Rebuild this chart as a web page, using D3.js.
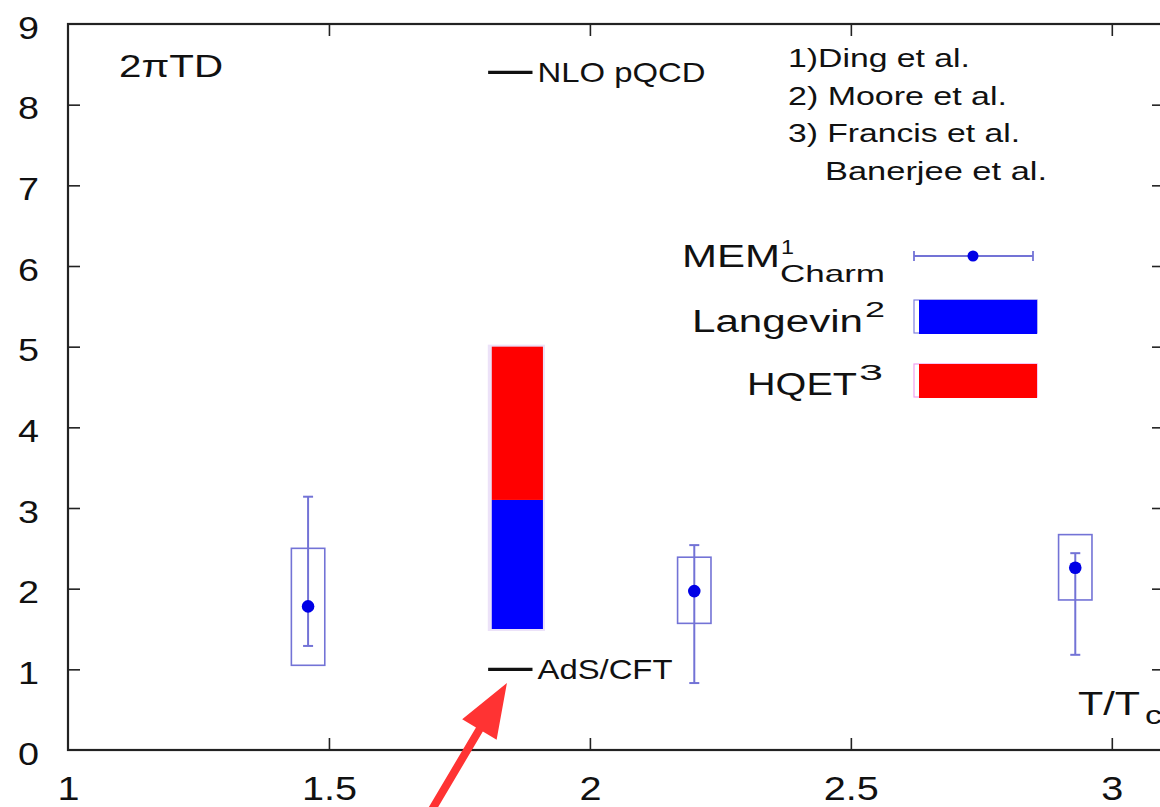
<!DOCTYPE html>
<html>
<head>
<meta charset="utf-8">
<script src="https://cdn.jsdelivr.net/npm/d3@7"></script>
<style>
  body { margin: 0; background: #fff; }
  svg { display: block; }
  text { font-family: "Liberation Sans", Arial, sans-serif; fill: #111; }
</style>
</head>
<body>
<svg id="chart" width="1160" height="807"></svg>
<script>
// MEM charm points (T/Tc, 2piTD), stat errors and systematic boxes
const memT = [1.46, 2.2, 2.93];
const memD = [1.78, 1.97, 2.26];
const memErrLo = [1.29, 0.83, 1.18];
const memErrHi = [3.14, 2.54, 2.44];
const memBoxLo = [1.05, 1.57, 1.86];
const memBoxHi = [2.50, 2.39, 2.67];

// Langevin / HQET band (stacked at the same T)
const bandT = [1.812, 1.91];
const langevinRange = [1.5, 3.1];
const hqetRange = [3.1, 5.0];

// short reference lines
const nloT = [1.805, 1.89];
const nloD = 8.4;
const adsT = [1.805, 1.89];
const adsD = 1.0;

const xTicks = [1, 1.5, 2, 2.5, 3];
const yTicks = [0, 1, 2, 3, 4, 5, 6, 7, 8, 9];
const refLines = ["1)Ding et al.", "2) Moore et al.", "3) Francis et al.", "Banerjee et al."];

const svg = d3.select("#chart");
const pL = 68, pR = 1164, pT = 24, pB = 750;

const x = d3.scaleLinear().domain([1, 3.1]).range([pL, pR]);
const y = d3.scaleLinear().domain([0, 9]).range([pB, pT]);

const memBlue = "#0000e6";
const barStroke = "#7373d6";

// the source figure is stretched sideways, so texts get widened glyphs
function stretchTo(sel, w) {
  sel.attr("textLength", w).attr("lengthAdjust", "spacingAndGlyphs");
  return sel;
}
function stretchBy(sel, k) {
  sel.each(function () {
    const l = this.getComputedTextLength();
    d3.select(this).attr("textLength", l * k).attr("lengthAdjust", "spacingAndGlyphs");
  });
  return sel;
}
function label(px, py, size, str, w) {
  const t = svg.append("text").attr("x", px).attr("y", py).attr("font-size", size).text(str);
  if (w) stretchTo(t, w);
  return t;
}

// frame
svg.append("rect")
  .attr("x", pL).attr("y", pT)
  .attr("width", pR - pL).attr("height", pB - pT)
  .attr("fill", "none").attr("stroke", "#222").attr("stroke-width", 2.2);

// axes
const styleAxis = g => {
  g.select(".domain").remove();
  g.selectAll(".tick line").attr("stroke", "#222").attr("stroke-width", 1.6);
};

svg.append("g")
  .attr("transform", `translate(0,${pB})`)
  .call(d3.axisBottom(x).tickValues(xTicks).tickSize(-12).tickPadding(27)
    .tickFormat(d3.format("")))
  .call(styleAxis)
  .call(g => g.selectAll(".tick").filter(d => d === 1).select("line").remove())
  .call(g => g.selectAll("text").attr("font-size", 33).attr("fill", "#111")
    .attr("font-family", "Liberation Sans, Arial, sans-serif"))
  .call(g => stretchBy(g.selectAll("text"), 1.2));

svg.append("g")
  .attr("transform", `translate(0,${pT})`)
  .call(d3.axisTop(x).tickValues(xTicks.slice(1)).tickSize(-12).tickFormat(""))
  .call(styleAxis);

svg.append("g")
  .attr("transform", `translate(${pL},0)`)
  .call(d3.axisLeft(y).tickValues(yTicks).tickSize(-12).tickPadding(29))
  .call(styleAxis)
  .call(g => g.selectAll(".tick").filter(d => d === 0 || d === 9).select("line").remove())
  .call(g => g.selectAll("text").attr("font-size", 32).attr("dy", "0.44em").attr("fill", "#111")
    .attr("font-family", "Liberation Sans, Arial, sans-serif"))
  .call(g => stretchBy(g.selectAll("text"), 1.18));

svg.append("g")
  .attr("transform", `translate(${pR},0)`)
  .call(d3.axisRight(y).tickValues(yTicks.slice(1, -1)).tickSize(-12).tickFormat(""))
  .call(styleAxis);

// stacked band (Langevin blue, HQET red)
const bands = [
  { r: langevinRange, c: "#0000ff" },
  { r: hqetRange, c: "#ff0000" }
];
svg.append("rect")
  .attr("x", x(bandT[0]) - 4).attr("y", y(hqetRange[1]) - 2)
  .attr("width", x(bandT[1]) - x(bandT[0]) + 6)
  .attr("height", y(langevinRange[0]) - y(hqetRange[1]) + 4)
  .attr("fill", "#ece2f8");
svg.selectAll("rect.band").data(bands).join("rect")
  .attr("class", "band")
  .attr("x", x(bandT[0]))
  .attr("y", d => y(d.r[1]))
  .attr("width", x(bandT[1]) - x(bandT[0]))
  .attr("height", d => y(d.r[0]) - y(d.r[1]))
  .attr("fill", d => d.c);

// reference lines
const refs = [
  { t: nloT, d: nloD, label: "NLO pQCD", w: 168 },
  { t: adsT, d: adsD, label: "AdS/CFT", w: 135 }
];
refs.forEach(r => {
  svg.append("line")
    .attr("x1", x(r.t[0])).attr("x2", x(r.t[1]))
    .attr("y1", y(r.d)).attr("y2", y(r.d))
    .attr("stroke", "#111").attr("stroke-width", 3.2);
  label(x(r.t[1]) + 5, y(r.d) + 10, 28, r.label, r.w);
});

// MEM points
const mem = memT.map((t, i) => ({
  t, d: memD[i], lo: memErrLo[i], hi: memErrHi[i], blo: memBoxLo[i], bhi: memBoxHi[i]
}));
const boxHalf = 0.032, capHalf = 5;
const pts = svg.append("g").selectAll("g").data(mem).join("g");
pts.append("rect")
  .attr("x", d => x(d.t - boxHalf)).attr("y", d => y(d.bhi))
  .attr("width", x(1 + 2 * boxHalf) - x(1))
  .attr("height", d => y(d.blo) - y(d.bhi))
  .attr("fill", "none").attr("stroke", barStroke).attr("stroke-width", 1.6);
pts.append("line")
  .attr("x1", d => x(d.t)).attr("x2", d => x(d.t))
  .attr("y1", d => y(d.hi)).attr("y2", d => y(d.lo))
  .attr("stroke", barStroke).attr("stroke-width", 2);
pts.selectAll("line.cap").data(d => [[d.t, d.hi], [d.t, d.lo]]).join("line")
  .attr("class", "cap")
  .attr("x1", d => x(d[0]) - capHalf).attr("x2", d => x(d[0]) + capHalf)
  .attr("y1", d => y(d[1])).attr("y2", d => y(d[1]))
  .attr("stroke", barStroke).attr("stroke-width", 2);
pts.append("circle")
  .attr("cx", d => x(d.t)).attr("cy", d => y(d.d)).attr("r", 6.3)
  .attr("fill", memBlue);

// labels
label(119, 77, 32, "2πTD", 104);
label(1078, 715, 34, "T/T", 62);
label(1145, 724, 26, "c", 17);

const refW = [182, 219, 232, 222];
refLines.forEach((s, i) => label(i === 3 ? 825 : 788, 67 + i * 37.7, 26, s, refW[i]));

// legend
label(682, 267, 31, "MEM", 98);
label(781, 254, 21, "1", 13);
label(780, 282, 24, "Charm", 105);

const lg = svg.append("g");
lg.append("line").attr("x1", 914).attr("x2", 1033).attr("y1", 256).attr("y2", 256)
  .attr("stroke", barStroke).attr("stroke-width", 1.8);
[914, 1033].forEach(px => lg.append("line")
  .attr("x1", px).attr("x2", px).attr("y1", 251).attr("y2", 261)
  .attr("stroke", barStroke).attr("stroke-width", 1.8));
lg.append("circle").attr("cx", 973).attr("cy", 256).attr("r", 5.5).attr("fill", memBlue);

const legendBands = [
  { name: "Langevin", sup: "2", c: "#0000ff", edge: "#8080e0", x0: 692, w: 171, sw: 20, yb: 332, yTop: 300 },
  { name: "HQET", sup: "3", c: "#ff0000", edge: "#f0a0f0", x0: 747, w: 110, sw: 24, yb: 395, yTop: 364 }
];
legendBands.forEach(b => {
  label(b.x0, b.yb, 31, b.name, b.w);
  label(b.x0 + b.w + 2, b.yb - 15, 22, b.sup, b.sw);
  lg.append("rect").attr("x", 914).attr("y", b.yTop).attr("width", 123).attr("height", 33)
    .attr("fill", "none").attr("stroke", b.edge).attr("stroke-width", 1.2);
  lg.append("rect").attr("x", 919).attr("y", b.yTop).attr("width", 118).attr("height", 34)
    .attr("fill", b.c);
});

// red annotation arrow pointing at AdS/CFT
const tip = [x(1.841), y(0.83)];
const tail = [x(1.69), y(-0.82)];
const dx = tip[0] - tail[0], dy = tip[1] - tail[1];
const len = Math.hypot(dx, dy);
const ux = dx / len, uy = dy / len, px = -uy, py = ux;
const headLen = 54, headHalf = 20, shaftHalf = 4;
const bx = tip[0] - ux * headLen, by = tip[1] - uy * headLen;
const arrowPts = [
  [tail[0] + px * shaftHalf, tail[1] + py * shaftHalf],
  [bx + px * shaftHalf, by + py * shaftHalf],
  [bx + px * headHalf, by + py * headHalf],
  tip,
  [bx - px * headHalf, by - py * headHalf],
  [bx - px * shaftHalf, by - py * shaftHalf],
  [tail[0] - px * shaftHalf, tail[1] - py * shaftHalf]
];
svg.append("path")
  .attr("d", d3.line()(arrowPts) + "Z")
  .attr("fill", "#ff3333");
</script>
</body>
</html>
